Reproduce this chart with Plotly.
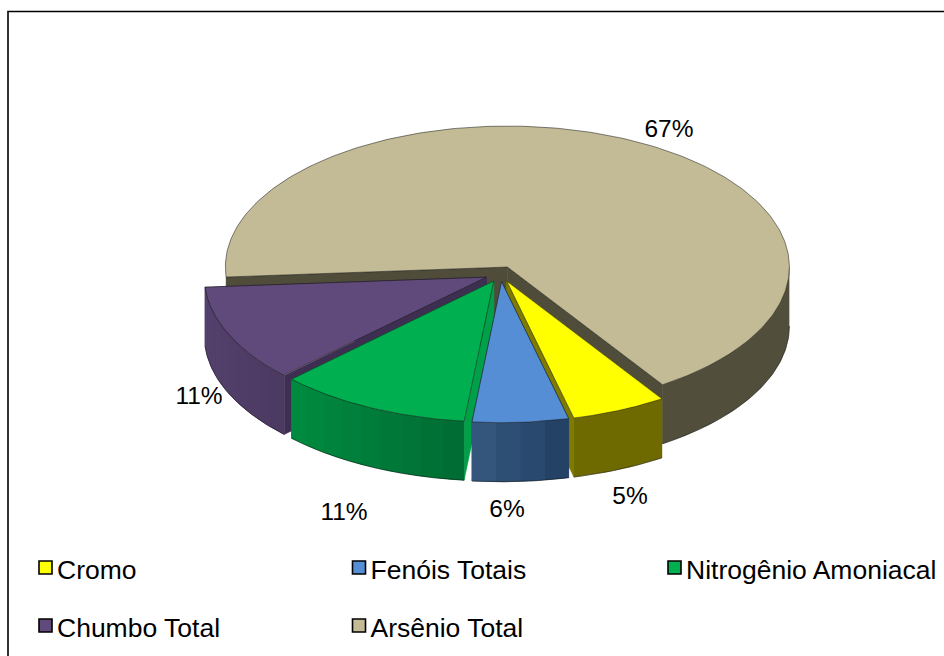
import numpy as np
import plotly.graph_objects as go

# --- data ---
categories = ["Cromo", "Fenóis Totais", "Nitrogênio Amoniacal", "Chumbo Total", "Arsênio Total"]
values = [5.45, 5.5, 11.05, 11.15, 66.85]
start_angle = 146.6  # clockwise from 12 o'clock, where the first slice begins

# --- style ---
top_colors = {"Cromo": "#FFFF00", "Fenóis Totais": "#558ED5", "Nitrogênio Amoniacal": "#00B050",
              "Chumbo Total": "#604A7B", "Arsênio Total": "#C3BB95"}
wall_colors = {"Cromo": ("#6E6A00", "#6E6A00"), "Fenóis Totais": ("#36597F", "#223F63"),
               "Nitrogênio Amoniacal": ("#008C40", "#006C33"), "Chumbo Total": ("#55416F", "#4C3A62"),
               "Arsênio Total": ("#514E3C", "#514E3C")}
side_colors = {"Cromo": "#7F7A00", "Fenóis Totais": "#2B4A6E", "Nitrogênio Amoniacal": "#00A048",
               "Chumbo Total": "#3E2F52", "Arsênio Total": "#4F4C3A"}
paint_order = ["Arsênio Total", "Chumbo Total", "Cromo", "Nitrogênio Amoniacal", "Fenóis Totais"]
label_xy = {"Cromo": (630, 497.5), "Fenóis Totais": (507, 510.5), "Nitrogênio Amoniacal": (344, 513.5),
            "Chumbo Total": (199, 397.5), "Arsênio Total": (669, 131)}
legend_xy = {"Cromo": (45.5, 567.5), "Fenóis Totais": (359, 567.5), "Nitrogênio Amoniacal": (674.5, 567.5),
             "Chumbo Total": (45.5, 625.5), "Arsênio Total": (359, 625.5)}
TXT = "Liberation Sans, Arial, sans-serif"
CX, CY, RX, RY, DEPTH, EXPLODE = 500.5, 274.0, 282.0, 141.0, 59.0, 0.055

def hexrgb(h):
    return np.array([int(h[i:i + 2], 16) for i in (1, 3, 5)], float)

def mix(a, b, t):
    c = hexrgb(a) * (1 - t) + hexrgb(b) * t
    return "rgb(%d,%d,%d)" % tuple(c.round())

fig = go.Figure()

def poly(xs, ys, fill, line=None, width=0.5):
    fig.add_trace(go.Scatter(
        x=list(xs), y=list(ys), mode="lines", fill="toself", fillcolor=fill,
        line=dict(color=line or fill, width=width),
        hoverinfo="skip", showlegend=False))

# slice angles from the values
total = sum(values)
spans = {}
a = start_angle
for c, v in zip(categories, values):
    d = v / total * 360
    spans[c] = (a, a + d)
    a += d

EDGE = "rgba(20,20,20,0.65)"
for c in paint_order:
    a0, a1 = spans[c]
    mid = np.radians((a0 + a1) / 2)
    ax = CX + EXPLODE * RX * np.sin(mid)
    ay = CY - EXPLODE * RY * np.cos(mid)
    px = lambda t: ax + RX * np.sin(np.radians(t))
    py = lambda t: ay - RY * np.cos(np.radians(t))

    # radial side walls
    for edge in (a0, a1):
        poly([ax, px(edge), px(edge), ax, ax],
             [ay, py(edge), py(edge) + DEPTH, ay + DEPTH, ay], side_colors[c])

    # outer wall: only the part facing the viewer (90..270 deg), in shaded strips
    lo, hi = None, None
    for shift in (0, 360):
        l, h = max(a0, 90 + shift), min(a1, 270 + shift)
        if l < h:
            lo, hi = l, h
    if lo is not None:
        c_left, c_right = wall_colors[c]
        t = np.linspace(lo, hi, 80)
        poly(list(px(t)) + list(px(t[::-1])), list(py(t)) + list(py(t[::-1]) + DEPTH),
             mix(c_left, c_right, 0.5))
        if c_left != c_right:
            n = max(2, int((hi - lo) / 4))
            edges = np.linspace(lo, hi, n + 1)
            for i in range(n):
                s = np.linspace(edges[i], edges[i + 1], 6)
                col = mix(c_left, c_right, 1 - (i + 0.5) / n)
                poly(list(px(s)) + list(px(s[::-1])),
                     list(py(s)) + list(py(s[::-1]) + DEPTH), col, width=0)
        fig.add_trace(go.Scatter(x=px(t), y=py(t) + DEPTH, mode="lines",
                                 line=dict(color=EDGE, width=0.8),
                                 hoverinfo="skip", showlegend=False))

    # top face
    t = np.linspace(a0, a1, 240)
    poly([ax] + list(px(t)) + [ax], [ay] + list(py(t)) + [ay], top_colors[c], EDGE, 0.8)

# percentage labels
for c, v in zip(categories, values):
    x, y = label_xy[c]
    pct = v / total * 100
    fig.add_trace(go.Scatter(x=[x], y=[y], mode="text", text=[f"{int(pct + 0.5)}%"],
                             textposition="middle center",
                             textfont=dict(family=TXT, size=24.5, color="#000000"),
                             hoverinfo="skip", showlegend=False))

# legend
for c in categories:
    x, y = legend_xy[c]
    fig.add_trace(go.Scatter(x=[x], y=[y], mode="markers",
                             marker=dict(symbol="square", size=13, color=top_colors[c],
                                         line=dict(color="#000000", width=1.6)),
                             hoverinfo="skip", showlegend=False))
    fig.add_trace(go.Scatter(x=[x + 11.5], y=[y + 5], mode="text", text=[c],
                             textposition="middle right",
                             textfont=dict(family=TXT, size=26.5, color="#000000"),
                             hoverinfo="skip", showlegend=False))

fig.update_layout(
    width=944, height=656, margin=dict(l=0, r=0, t=0, b=0),
    paper_bgcolor="#FFFFFF", plot_bgcolor="#FFFFFF",
    xaxis=dict(range=[0, 944], visible=False, fixedrange=True),
    yaxis=dict(range=[656, 0], visible=False, fixedrange=True),
    shapes=[dict(type="rect", xref="x", yref="y", x0=8, y0=11.5, x1=960, y1=700,
                 line=dict(color="#000000", width=1.6), fillcolor="rgba(0,0,0,0)", layer="below")],
)
fig.write_html("out.html", config=dict(displayModeBar=False),
               post_script="document.body.style.margin='0';document.documentElement.style.overflow='hidden';")
